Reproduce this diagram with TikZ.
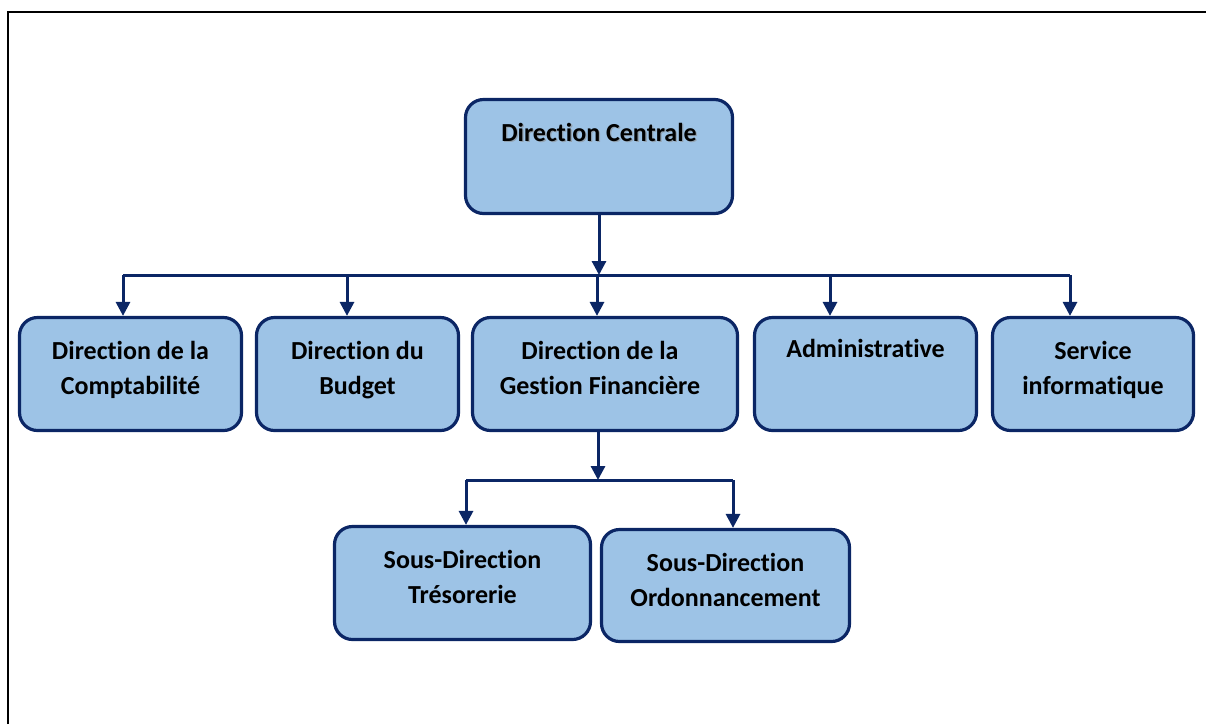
\documentclass[tikz,border=0pt]{standalone}
\usepackage{fontspec}
\setmainfont{Carlito}[Ligatures=NoCommon, RawFeature={-calt}]
\usetikzlibrary{arrows.meta,calc}

\definecolor{boxfill}{HTML}{9DC3E6}
\definecolor{navy}{HTML}{0B2665}

\tikzset{
  x=1pt, y=-1pt,
  orgbox/.style={draw=navy, fill=boxfill, line width=3.2pt, rounded corners=18pt,
                 inner sep=0pt},
  lbl/.style={font=\fontsize{26}{35}\selectfont\bfseries, align=center,
              inner sep=0pt, anchor=north, text=black},
  link/.style={draw=navy, line width=3pt},
  arr/.style={link, -{Triangle[width=14pt,length=14pt]}},
  frame/.style={draw=black, line width=1.6pt}
}

\newcommand{\orgtext}[2]{\strut #1\\\strut #2}

\begin{document}
\begin{tikzpicture}
\useasboundingbox (0,0) rectangle (1206,724);

% outer frame
\draw[frame] (8,724) -- (8,12) -- (1206,12);

% boxes
\node[orgbox, minimum width=267pt, minimum height=114pt] (cen)  at (599,156.5) {};
\node[orgbox, minimum width=222pt, minimum height=113pt] (comp) at (130.5,374) {};
\node[orgbox, minimum width=202pt, minimum height=113pt] (bud)  at (357.5,374) {};
\node[orgbox, minimum width=265pt, minimum height=113pt] (gest) at (605,374) {};
\node[orgbox, minimum width=222pt, minimum height=113pt] (adm)  at (865.5,374) {};
\node[orgbox, minimum width=201pt, minimum height=113pt] (serv) at (1093,374) {};
\node[orgbox, minimum width=256pt, minimum height=113pt] (tres) at (462.5,583) {};
\node[orgbox, minimum width=248pt, minimum height=112pt] (ord)  at (725.5,585.5) {};

% labels
\node[lbl, text=black!45, opacity=0.6] (cen-shadow) at ($(cen.north)+(1.3,19.8)$) {\strut Direction Centrale};
\node[lbl] (cen-t)  at ($(cen.north)+(0,18.5)$)  {\strut Direction Centrale};
\node[lbl] (comp-t) at ($(comp.north)+(0,18.5)$) {\orgtext{Direction de la}{Comptabilité}};
\node[lbl] (bud-t)  at ($(bud.north)+(0,18.5)$)  {\orgtext{Direction du}{Budget}};
\node[lbl] (gest-t) at ($(gest.north)+(-5,18.5)$) {\orgtext{Direction de la}{Gestion Financière}};
\node[lbl] (adm-t)  at ($(adm.north)+(0,16.5)$)  {\strut Administrative};
\node[lbl] (serv-t) at ($(serv.north)+(0,18.5)$) {\orgtext{Service}{informatique}};
\node[lbl] (tres-t) at ($(tres.north)+(0,18.5)$) {\orgtext{Sous-Direction}{Trésorerie}};
\node[lbl] (ord-t)  at ($(ord.north)+(0,18.5)$)  {\orgtext{Sous-Direction}{Ordonnancement}};

% first level connectors
\coordinate (hub1) at (599,275);
\coordinate (bar1L) at (123,275);
\coordinate (bar1R) at (1070,275);
\draw[arr] (cen.south) -- (hub1);
\draw[link] (bar1L) -- (bar1R);
\draw[arr] (bar1L) -- (comp.north -| bar1L);
\draw[arr] (347,275) coordinate (bar1b) -- (bud.north -| bar1b);
\draw[arr] (597,275) coordinate (bar1g) -- (gest.north -| bar1g);
\draw[arr] (830,275) coordinate (bar1a) -- (adm.north -| bar1a);
\draw[arr] (bar1R) -- (serv.north -| bar1R);

% second level connectors
\coordinate (gsrc) at (598,0);
\coordinate (hub2) at (598,480);
\coordinate (bar2L) at (466,480);
\coordinate (bar2R) at (733,480);
\draw[arr] (gest.south -| gsrc) -- (hub2);
\draw[link] (bar2L) -- (bar2R);
\draw[arr] (bar2L) -- (tres.north -| bar2L);
\draw[arr] (bar2R) -- (ord.north -| bar2R);
\end{tikzpicture}
\end{document}
